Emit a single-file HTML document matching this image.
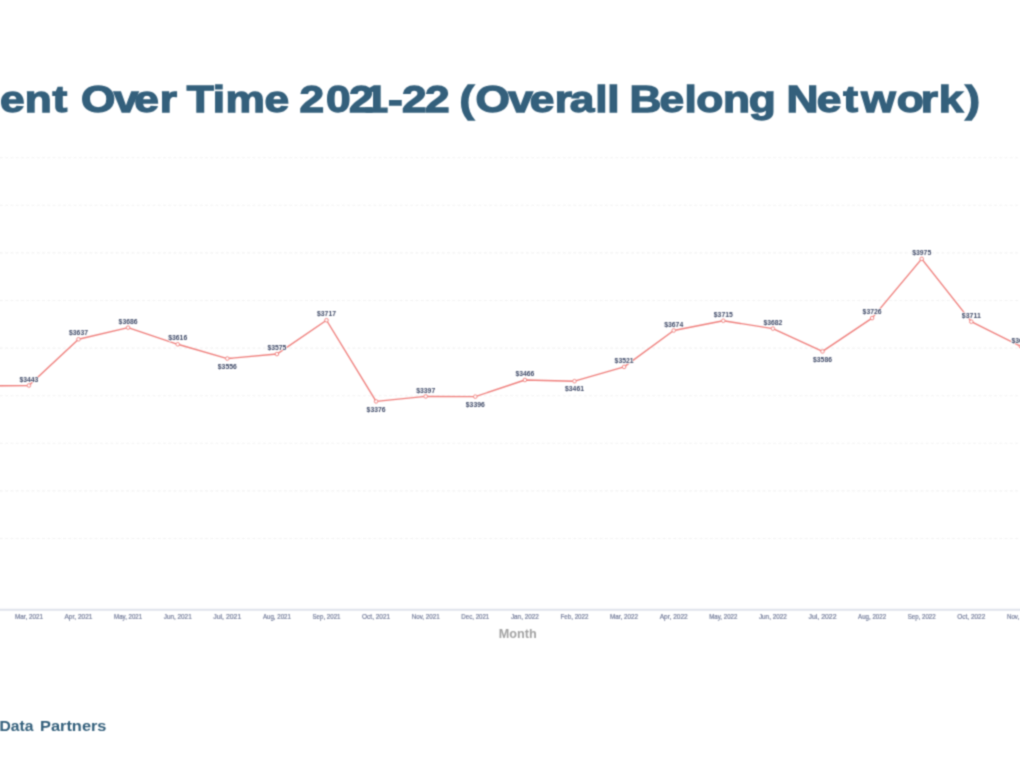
<!DOCTYPE html>
<html lang="en">
<head>
<meta charset="utf-8">
<title>Rent Over Time 2021-22 (Overall Belong Network)</title>
<style>
html,body{margin:0;padding:0;background:#fff;}
body{width:1020px;height:764px;overflow:hidden;position:relative;font-family:"Liberation Sans",sans-serif;}
svg{position:absolute;left:0;top:0;display:block;}
.title{font-family:"Liberation Sans",sans-serif;font-weight:700;font-size:39px;fill:#34607c;}
.foot{font-family:"Liberation Sans",sans-serif;font-weight:700;font-size:14.4px;fill:#34607c;}
.xl{font-family:"Liberation Sans",sans-serif;font-size:7px;fill:#737c9a;stroke:#737c9a;stroke-width:0.2;text-anchor:middle;}
.dl{font-family:"Liberation Sans",sans-serif;font-weight:700;font-size:7px;fill:#3d4866;text-anchor:middle;stroke:#fff;stroke-width:1.4;stroke-linejoin:round;paint-order:stroke fill;}
.ax{font-family:"Liberation Sans",sans-serif;font-weight:700;font-size:12px;fill:#a3a3a3;}
.grid line{stroke:#f2f2f2;stroke-width:1.1;stroke-dasharray:2.8 2.46;}
</style>
</head>
<body>
<svg width="1020" height="764" viewBox="0 0 1020 764">
<defs><filter id="soft" x="0" y="0" width="1020" height="764" filterUnits="userSpaceOnUse" color-interpolation-filters="sRGB"><feConvolveMatrix order="3" kernelMatrix="0.04 0.12 0.04 0.12 0.36 0.12 0.04 0.12 0.04" edgeMode="duplicate" preserveAlpha="false"/></filter></defs>
<rect x="0" y="0" width="1020" height="764" fill="#fff"/>
<g filter="url(#soft)">

<g transform="scale(1.21,1)"><text class="title" style="font-size:36.6px;stroke:#34607c;stroke-width:1.3" y="111.7" x="-0.02 20.40 43.29 57.69 66.90 94.09 110.97 132.11 147.52 154.39 175.93 186.34 218.58 239.92 247.48 269.39 288.43 300.41 320.66 332.19 351.24 371.57 379.67 392.89 420.00 437.79 458.40 470.86 491.88 501.88 511.57 520.32 545.10 565.76 575.39 597.63 618.80 640.83 650.02 675.10 696.84 711.86 741.09 761.04 775.84 797.82">ent Over Time 2021-22 (Overall Belong Network)</text></g>
<g class="grid">
<line x1="0" x2="1020" y1="157.70" y2="157.70"/>
<line x1="0" x2="1020" y1="205.30" y2="205.30"/>
<line x1="0" x2="1020" y1="252.90" y2="252.90"/>
<line x1="0" x2="1020" y1="300.50" y2="300.50"/>
<line x1="0" x2="1020" y1="348.10" y2="348.10"/>
<line x1="0" x2="1020" y1="395.70" y2="395.70"/>
<line x1="0" x2="1020" y1="443.30" y2="443.30"/>
<line x1="0" x2="1020" y1="490.90" y2="490.90"/>
<line x1="0" x2="1020" y1="538.50" y2="538.50"/>
</g>
<line x1="0" x2="1020" y1="609.8" y2="609.8" stroke="#dfe2eb" stroke-width="2"/>
<g class="xl">
<text x="28.90" y="619.2" textLength="28" lengthAdjust="spacingAndGlyphs">Mar, 2021</text>
<text x="78.50" y="619.2" textLength="28" lengthAdjust="spacingAndGlyphs">Apr, 2021</text>
<text x="128.10" y="619.2" textLength="28" lengthAdjust="spacingAndGlyphs">May, 2021</text>
<text x="177.70" y="619.2" textLength="28" lengthAdjust="spacingAndGlyphs">Jun, 2021</text>
<text x="227.30" y="619.2" textLength="28" lengthAdjust="spacingAndGlyphs">Jul, 2021</text>
<text x="276.90" y="619.2" textLength="28" lengthAdjust="spacingAndGlyphs">Aug, 2021</text>
<text x="326.50" y="619.2" textLength="28" lengthAdjust="spacingAndGlyphs">Sep, 2021</text>
<text x="376.10" y="619.2" textLength="28" lengthAdjust="spacingAndGlyphs">Oct, 2021</text>
<text x="425.70" y="619.2" textLength="28" lengthAdjust="spacingAndGlyphs">Nov, 2021</text>
<text x="475.30" y="619.2" textLength="28" lengthAdjust="spacingAndGlyphs">Dec, 2021</text>
<text x="524.90" y="619.2" textLength="28" lengthAdjust="spacingAndGlyphs">Jan, 2022</text>
<text x="574.50" y="619.2" textLength="28" lengthAdjust="spacingAndGlyphs">Feb, 2022</text>
<text x="624.10" y="619.2" textLength="28" lengthAdjust="spacingAndGlyphs">Mar, 2022</text>
<text x="673.70" y="619.2" textLength="28" lengthAdjust="spacingAndGlyphs">Apr, 2022</text>
<text x="723.30" y="619.2" textLength="28" lengthAdjust="spacingAndGlyphs">May, 2022</text>
<text x="772.90" y="619.2" textLength="28" lengthAdjust="spacingAndGlyphs">Jun, 2022</text>
<text x="822.50" y="619.2" textLength="28" lengthAdjust="spacingAndGlyphs">Jul, 2022</text>
<text x="872.10" y="619.2" textLength="28" lengthAdjust="spacingAndGlyphs">Aug, 2022</text>
<text x="921.70" y="619.2" textLength="28" lengthAdjust="spacingAndGlyphs">Sep, 2022</text>
<text x="971.30" y="619.2" textLength="28" lengthAdjust="spacingAndGlyphs">Oct, 2022</text>
<text x="1020.90" y="619.2" textLength="28" lengthAdjust="spacingAndGlyphs">Nov, 2022</text>
</g>
<text class="ax" x="498.8" y="637.6" textLength="38" lengthAdjust="spacingAndGlyphs">Month</text>
<polyline fill="none" stroke="#ef7f7c" stroke-width="1.4" stroke-linejoin="round" points="-20.70,385.94 28.90,385.47 78.50,339.29 128.10,327.63 177.70,344.29 227.30,358.57 276.90,354.05 326.50,320.25 376.10,401.41 425.70,396.41 475.30,396.65 524.90,379.99 574.50,381.18 624.10,366.90 673.70,330.49 723.30,320.73 772.90,328.58 822.50,351.43 872.10,318.11 921.70,258.85 971.30,321.68 1020.90,346.43"/>
<g fill="#fff" stroke="#ef7f7c" stroke-width="0.95">
<circle cx="28.90" cy="385.47" r="1.8"/>
<circle cx="78.50" cy="339.29" r="1.8"/>
<circle cx="128.10" cy="327.63" r="1.8"/>
<circle cx="177.70" cy="344.29" r="1.8"/>
<circle cx="227.30" cy="358.57" r="1.8"/>
<circle cx="276.90" cy="354.05" r="1.8"/>
<circle cx="326.50" cy="320.25" r="1.8"/>
<circle cx="376.10" cy="401.41" r="1.8"/>
<circle cx="425.70" cy="396.41" r="1.8"/>
<circle cx="475.30" cy="396.65" r="1.8"/>
<circle cx="524.90" cy="379.99" r="1.8"/>
<circle cx="574.50" cy="381.18" r="1.8"/>
<circle cx="624.10" cy="366.90" r="1.8"/>
<circle cx="673.70" cy="330.49" r="1.8"/>
<circle cx="723.30" cy="320.73" r="1.8"/>
<circle cx="772.90" cy="328.58" r="1.8"/>
<circle cx="822.50" cy="351.43" r="1.8"/>
<circle cx="872.10" cy="318.11" r="1.8"/>
<circle cx="921.70" cy="258.85" r="1.8"/>
<circle cx="971.30" cy="321.68" r="1.8"/>
<circle cx="1020.90" cy="346.43" r="1.8"/>
</g>
<g class="dl">
<text x="28.90" y="381.67" textLength="19" lengthAdjust="spacingAndGlyphs">$3443</text>
<text x="78.50" y="335.49" textLength="19" lengthAdjust="spacingAndGlyphs">$3637</text>
<text x="128.10" y="323.83" textLength="19" lengthAdjust="spacingAndGlyphs">$3686</text>
<text x="177.70" y="340.49" textLength="19" lengthAdjust="spacingAndGlyphs">$3616</text>
<text x="227.30" y="368.77" textLength="19" lengthAdjust="spacingAndGlyphs">$3556</text>
<text x="276.90" y="350.25" textLength="19" lengthAdjust="spacingAndGlyphs">$3575</text>
<text x="326.50" y="316.45" textLength="19" lengthAdjust="spacingAndGlyphs">$3717</text>
<text x="376.10" y="411.61" textLength="19" lengthAdjust="spacingAndGlyphs">$3376</text>
<text x="425.70" y="392.61" textLength="19" lengthAdjust="spacingAndGlyphs">$3397</text>
<text x="475.30" y="406.85" textLength="19" lengthAdjust="spacingAndGlyphs">$3396</text>
<text x="524.90" y="376.19" textLength="19" lengthAdjust="spacingAndGlyphs">$3466</text>
<text x="574.50" y="391.38" textLength="19" lengthAdjust="spacingAndGlyphs">$3461</text>
<text x="624.10" y="363.10" textLength="19" lengthAdjust="spacingAndGlyphs">$3521</text>
<text x="673.70" y="326.69" textLength="19" lengthAdjust="spacingAndGlyphs">$3674</text>
<text x="723.30" y="316.93" textLength="19" lengthAdjust="spacingAndGlyphs">$3715</text>
<text x="772.90" y="324.78" textLength="19" lengthAdjust="spacingAndGlyphs">$3682</text>
<text x="822.50" y="361.63" textLength="19" lengthAdjust="spacingAndGlyphs">$3586</text>
<text x="872.10" y="314.31" textLength="19" lengthAdjust="spacingAndGlyphs">$3726</text>
<text x="921.70" y="255.05" textLength="19" lengthAdjust="spacingAndGlyphs">$3975</text>
<text x="971.30" y="317.88" textLength="19" lengthAdjust="spacingAndGlyphs">$3711</text>
<text x="1020.90" y="342.63" textLength="19" lengthAdjust="spacingAndGlyphs">$3607</text>
</g>
<text class="foot" y="731"><tspan x="-0.5" textLength="34" lengthAdjust="spacingAndGlyphs">Data</tspan> <tspan x="40" textLength="66.5" lengthAdjust="spacingAndGlyphs">Partners</tspan></text>
</g>
</svg>
</body>
</html>
